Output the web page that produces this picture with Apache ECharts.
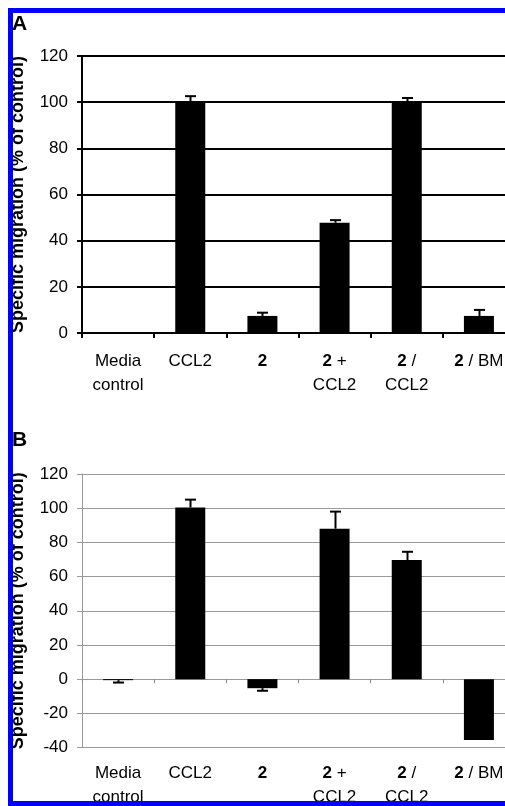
<!DOCTYPE html>
<html>
<head>
<meta charset="utf-8">
<script src="https://cdn.jsdelivr.net/npm/echarts@6/dist/echarts.min.js"></script>
<style>
html,body{margin:0;padding:0;overflow:hidden;background:#fff;width:505px;height:806px;}
#c{width:540px;height:806px;}
</style>
</head>
<body>
<div id="c"></div>
<script>
var categories = ['Media\ncontrol', 'CCL2', '2', '2 +\nCCL2', '2 /\nCCL2', '2 / BM'];
var valuesA = [0, 100, 7.4, 47.8, 100, 7.4];
var errEndA = [null, 102.6, 8.8, 48.9, 101.8, 10];
var valuesB = [-0.6, 100.4, -5.3, 88, 69.7, -35.6];
var errEndB = [-2, 105, -6.8, 98, 74.5, null];
var ticksA = [0, 120, 20];
var ticksB = [-40, 120, 20];
var yName = 'Specific migration (% of control)';

var font = 'Arial, "Liberation Sans", sans-serif';

function fmtLabel(v) {
  return v.split('\n').map(function (line) {
    if (line.charAt(0) === '2') {
      var rest = line.slice(1);
      return rest ? '{b|2}{n|' + rest + '}' : '{b|2}';
    }
    return '{n|' + line + '}';
  }).join('\n');
}

function errSeries(ends, vals, xi, yi) {
  var data = [];
  for (var i = 0; i < ends.length; i++) {
    if (ends[i] !== null) data.push([i, ends[i], vals[i]]);
  }
  return {
    type: 'custom', xAxisIndex: xi, yAxisIndex: yi, z: 5,
    data: data,
    renderItem: function (params, api) {
      var top = api.coord([api.value(0), api.value(1)]);
      var base = api.coord([api.value(0), api.value(2)]);
      var x = Math.round(top[0]) + 0.5;
      return {
        type: 'group',
        children: [
          {type: 'line', shape: {x1: x, y1: base[1], x2: x, y2: top[1]}, style: {stroke: '#000', lineWidth: 2}},
          {type: 'line', shape: {x1: x - 5.5, y1: top[1], x2: x + 5.5, y2: top[1]}, style: {stroke: '#000', lineWidth: 2}}
        ]
      };
    }
  };
}

var labelRich = {
  b: {fontFamily: font, fontSize: 17, fontWeight: 'bold', color: '#000', lineHeight: 24},
  n: {fontFamily: font, fontSize: 17, color: '#000', lineHeight: 24}
};

var chart = echarts.init(document.getElementById('c'), null, {renderer: 'canvas'});
chart.setOption({
  animation: false,
  backgroundColor: '#fff',
  grid: [
    {left: 82, top: 56, width: 433, height: 277, containLabel: false},
    {left: 82, top: 474, width: 433, height: 278, containLabel: false}
  ],
  xAxis: [
    {
      gridIndex: 0, type: 'category', data: categories, boundaryGap: true,
      axisLine: {show: true, lineStyle: {color: '#000', width: 2}},
      axisTick: {show: true, length: 5, lineStyle: {color: '#000', width: 2}},
      axisLabel: {margin: 16, interval: 0, formatter: fmtLabel, rich: labelRich, color: '#000'},
      splitLine: {show: false}
    },
    {
      gridIndex: 1, type: 'category', data: categories, boundaryGap: true,
      axisLine: {show: true, onZero: true, lineStyle: {color: '#999', width: 1}},
      axisTick: {show: true, length: 4, lineStyle: {color: '#888', width: 1}},
      axisLabel: {show: false},
      splitLine: {show: false}
    },
    {
      gridIndex: 1, type: 'category', data: categories, boundaryGap: true, position: 'bottom',
      axisLine: {show: false, onZero: false},
      axisTick: {show: false},
      axisLabel: {margin: 14, interval: 0, formatter: fmtLabel, rich: labelRich, color: '#000'},
      splitLine: {show: false}
    }
  ],
  yAxis: [
    {
      gridIndex: 0, type: 'value', min: ticksA[0], max: ticksA[1], interval: ticksA[2],
      name: yName, nameLocation: 'middle', nameGap: 55, nameRotate: 90,
      nameTextStyle: {fontFamily: font, fontSize: 18, fontWeight: 'bold', color: '#000'},
      axisLine: {show: true, lineStyle: {color: '#000', width: 2}},
      axisTick: {show: true, length: 5, lineStyle: {color: '#000', width: 2}},
      axisLabel: {margin: 14, fontFamily: font, fontSize: 17, color: '#000'},
      splitLine: {show: true, lineStyle: {color: '#000', width: 2}}
    },
    {
      gridIndex: 1, type: 'value', min: ticksB[0], max: ticksB[1], interval: ticksB[2],
      name: yName, nameLocation: 'middle', nameGap: 55, nameRotate: 90,
      nameTextStyle: {fontFamily: font, fontSize: 18, fontWeight: 'bold', color: '#000'},
      axisLine: {show: true, lineStyle: {color: '#999', width: 1}},
      axisTick: {show: true, length: 5, lineStyle: {color: '#999', width: 1}},
      axisLabel: {margin: 14, fontFamily: font, fontSize: 17, color: '#000'},
      splitLine: {show: true, lineStyle: {color: '#999', width: 1}}
    }
  ],
  series: [
    {type: 'bar', xAxisIndex: 0, yAxisIndex: 0, data: valuesA, barWidth: 30, itemStyle: {color: '#000'}, z: 3},
    errSeries(errEndA, valuesA, 0, 0),
    {type: 'bar', xAxisIndex: 1, yAxisIndex: 1, data: valuesB, barWidth: 30, itemStyle: {color: '#000'}, z: 3},
    errSeries(errEndB, valuesB, 1, 1)
  ],
  graphic: [
    {type: 'text', left: 12, top: 14, z: 50, style: {text: 'A', fontFamily: font, fontSize: 21, fontWeight: 'bold', fill: '#000'}},
    {type: 'text', left: 12, top: 430, z: 50, style: {text: 'B', fontFamily: font, fontSize: 21, fontWeight: 'bold', fill: '#000'}},
    {type: 'rect', z: 100, silent: true, shape: {x: 10.5, y: 10.5, width: 600, height: 793}, style: {fill: 'none', stroke: '#0000ff', lineWidth: 5}}
  ]
});
</script>
</body>
</html>
